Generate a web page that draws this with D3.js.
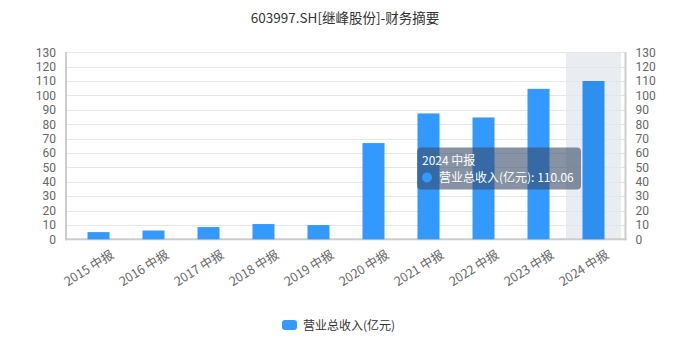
<!DOCTYPE html>
<html>
<head>
<meta charset="utf-8">
<script src="https://cdn.jsdelivr.net/npm/d3@7/dist/d3.min.js"></script>
<style>
  html, body { margin: 0; padding: 0; background: #fff; }
  svg { display: block; font-family: "Noto Sans CJK SC", "Noto Sans", sans-serif; }
</style>
</head>
<body>
<svg id="chart" width="687" height="353"></svg>
<script>
const title = "603997.SH[继峰股份]-财务摘要";
const seriesName = "营业总收入(亿元)";
const categories = ["2015 中报", "2016 中报", "2017 中报", "2018 中报", "2019 中报",
                    "2020 中报", "2021 中报", "2022 中报", "2023 中报", "2024 中报"];
const revenue = [5.0, 6.1, 8.5, 10.6, 9.9, 66.9, 87.5, 84.7, 104.6, 110.06];
const yTicks = [0, 10, 20, 30, 40, 50, 60, 70, 80, 90, 100, 110, 120, 130];
const highlightIndex = 9;

const svg = d3.select("#chart");
const gridL = 66, gridR = 625.5, gridT = 52.3, gridB = 239.3;

const x = d3.scaleBand().domain(categories).range([71, 621]).paddingInner(0.6).paddingOuter(0.3);
const y = d3.scaleLinear().domain([0, 130]).range([gridB, gridT]);

// title
svg.append("text").attr("x", 345).attr("y", 23).attr("text-anchor", "middle")
  .attr("font-size", 13.5).attr("fill", "#333").text(title);

// highlight shadow band
const step = x.step();
svg.append("rect")
  .attr("x", x(categories[highlightIndex]) - (step - x.bandwidth()) / 2)
  .attr("y", gridT).attr("width", step).attr("height", gridB - gridT)
  .attr("fill", "#e9ecf1");

// gridlines
svg.append("g").selectAll("line").data(yTicks.filter(d => d > 0)).join("line")
  .attr("x1", gridL).attr("x2", gridR)
  .attr("y1", d => Math.round(y(d)) + 0.5).attr("y2", d => Math.round(y(d)) + 0.5)
  .attr("stroke", "#e6e6e6").attr("stroke-width", 1);

// axes lines
svg.append("line").attr("x1", gridL).attr("x2", gridL).attr("y1", gridT).attr("y2", gridB + 1)
  .attr("stroke", "#ccc").attr("stroke-width", 2);
svg.append("line").attr("x1", gridR).attr("x2", gridR).attr("y1", gridT).attr("y2", gridB + 1)
  .attr("stroke", "#ccc").attr("stroke-width", 2);
svg.append("line").attr("x1", gridL - 1).attr("x2", gridR + 1).attr("y1", gridB).attr("y2", gridB)
  .attr("stroke", "#ccc").attr("stroke-width", 2);

// y-axis labels (left & right)
const numFont = "Roboto, 'Noto Sans', sans-serif";
const leftAxis = d3.axisLeft(y).tickValues(yTicks).tickSize(0).tickPadding(10);
const gl = svg.append("g").attr("transform", `translate(${gridL},0)`).call(leftAxis);
gl.select(".domain").remove();
gl.selectAll("text").attr("font-size", 12).attr("fill", "#666").attr("font-family", numFont);
const rightAxis = d3.axisRight(y).tickValues(yTicks).tickSize(0).tickPadding(10);
const gr = svg.append("g").attr("transform", `translate(${gridR},0)`).call(rightAxis);
gr.select(".domain").remove();
gr.selectAll("text").attr("font-size", 12).attr("fill", "#666").attr("font-family", numFont);

// bars
svg.append("g").selectAll("rect").data(revenue).join("rect")
  .attr("x", (d, i) => x(categories[i]))
  .attr("y", d => y(d))
  .attr("width", x.bandwidth())
  .attr("height", d => gridB - y(d))
  .attr("fill", (d, i) => i === highlightIndex ? "#2f8fef" : "#3399ff");

// x labels rotated
svg.append("g").selectAll("text").data(categories).join("text")
  .attr("transform", d => `translate(${x(d) + x.bandwidth() / 2 + 14},${gridB + 14}) rotate(-32)`)
  .attr("text-anchor", "end").attr("dy", "0.35em")
  .attr("font-size", 12.5).attr("fill", "#666").text(d => d);

// tooltip
const tt = svg.append("g").attr("transform", "translate(417,147.5)");
tt.append("rect").attr("width", 164).attr("height", 42).attr("rx", 4)
  .attr("fill", "rgba(55,75,105,0.6)");
tt.append("text").attr("x", 5).attr("y", 17).attr("font-size", 12).attr("fill", "#fff")
  .text(categories[highlightIndex]);
tt.append("circle").attr("cx", 10).attr("cy", 30).attr("r", 5).attr("fill", "#3399ff");
tt.append("text").attr("x", 22).attr("y", 34.5).attr("font-size", 12).attr("fill", "#fff")
  .text(`${seriesName}: ${revenue[highlightIndex].toFixed(2)}`);

// legend
svg.append("rect").attr("x", 282).attr("y", 320).attr("width", 15).attr("height", 10).attr("rx", 3)
  .attr("fill", "#3399ff");
svg.append("text").attr("x", 303).attr("y", 329.5).attr("font-size", 12).attr("fill", "#333")
  .text(seriesName);
</script>
</body>
</html>
